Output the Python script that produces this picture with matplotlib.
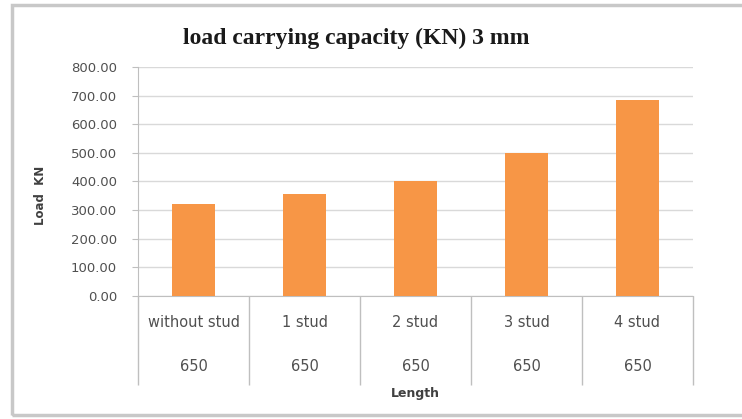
import matplotlib
matplotlib.use("Agg")
import matplotlib.pyplot as plt
from matplotlib.patches import Rectangle
from matplotlib.transforms import blended_transform_factory

categories = ["without stud", "1 stud", "2 stud", "3 stud", "4 stud"]
lengths = ["650", "650", "650", "650", "650"]
loads = [320, 355, 400, 500, 685]
yticks = [0, 100, 200, 300, 400, 500, 600, 700, 800]

W, H = 742, 419
fig = plt.figure(figsize=(W / 100, H / 100), dpi=100)
fig.patch.set_facecolor("white")

# chart frame
fig.add_artist(Rectangle((12 / W, 4 / H), 760 / W, 410 / H, transform=fig.transFigure,
                         facecolor="none", edgecolor="#c8c8c8", lw=2.5))

ax = fig.add_axes([138 / W, (H - 296) / H, (693 - 138) / W, (296 - 67) / H])
x = list(range(len(categories)))
ax.bar(x, loads, width=0.39, color="#f79646", zorder=3)
ax.set_xlim(-0.5, len(categories) - 0.5)
ax.set_ylim(0, 800)
ax.set_yticks(yticks)
ax.set_yticklabels([f"{v:.2f}" for v in yticks], fontsize=9.5, color="#505050",
                   family="DejaVu Sans")
ax.tick_params(axis="y", length=4, color="#bfbfbf", pad=11)
ax.grid(axis="y", color="#d9d9d9", lw=1, zorder=0)
for s in ["top", "right"]:
    ax.spines[s].set_visible(False)
ax.spines["left"].set_color("#bfbfbf")
ax.spines["bottom"].set_color("#bfbfbf")
ax.set_xticks([])

tr = blended_transform_factory(ax.transData, ax.transAxes)
for i, (c, l) in enumerate(zip(categories, lengths)):
    ax.text(i, -0.115, c, transform=tr, ha="center", va="center", fontsize=10.5,
            color="#505050", family="DejaVu Sans")
    ax.text(i, -0.31, l, transform=tr, ha="center", va="center", fontsize=10.5,
            color="#505050", family="DejaVu Sans")
# separators of the two-level category axis
bounds = [i - 0.5 for i in range(len(categories) + 1)]
ax.vlines(bounds, -0.39, 0, transform=tr, colors="#bfbfbf", lw=1, clip_on=False)

ax.text(0.5, -0.425, "Length", transform=ax.transAxes, ha="center", va="center",
        fontsize=9, fontweight="bold", color="#404040", family="DejaVu Sans")
fig.text(40 / W, 1 - 195 / H, "Load  KN", rotation=90, ha="center", va="center",
         fontsize=8.5, fontweight="bold", color="#404040", family="DejaVu Sans")
fig.text(356 / W, 1 - 38 / H, "load carrying capacity (KN) 3 mm", ha="center", va="center",
         fontsize=17, fontweight="bold", color="#1a1a1a", family="Liberation Serif")

fig.savefig("out.png", dpi=100)
